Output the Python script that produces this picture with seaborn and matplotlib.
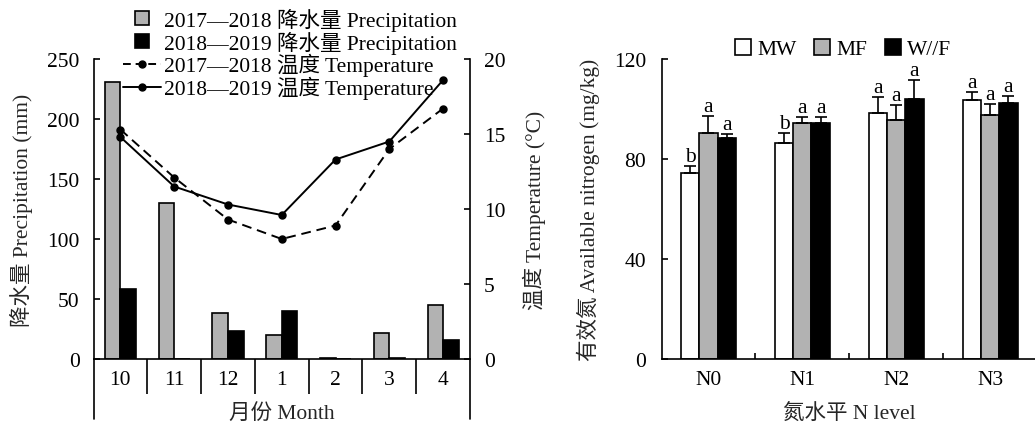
import numpy as np
import pandas as pd
import matplotlib
matplotlib.use('Agg')
import matplotlib.pyplot as plt
from matplotlib.lines import Line2D
import seaborn as sns

# Datos del panel izquierdo: precipitación y temperatura mensual
months = ['10', '11', '12', '1', '2', '3', '4']
seasons = ['2017—2018', '2018—2019']
precip_1718 = [231, 130, 38, 20, 1, 22, 45]
precip_1819 = [58, 0, 23, 40, 0, 0.6, 16]
temp_1718 = [15.3, 12.1, 9.3, 8.0, 8.9, 14.0, 16.7]
temp_1819 = [14.8, 11.5, 10.3, 9.6, 13.3, 14.5, 18.6]

# Datos del panel derecho: nitrógeno disponible
n_levels = ['N0', 'N1', 'N2', 'N3']
systems = ['MW', 'MF', 'W//F']
mw_vals = [74.5, 86.5, 98.5, 103.5]
mf_vals = [90.5, 94.5, 95.5, 97.5]
wf_vals = [88.5, 94.5, 104, 102.5]
mw_err = [2.8, 4.0, 6.3, 3.4]
mf_err = [6.6, 2.3, 6.1, 4.6]
wf_err = [1.6, 2.2, 7.7, 2.8]
mw_sig = ['b', 'b', 'a', 'a']
mf_sig = ['a', 'a', 'a', 'a']
wf_sig = ['a', 'a', 'a', 'a']

GRAY = '#b2b2b2'
FS = 15.5

sns.set_style('ticks')
plt.rcParams['font.family'] = ['Liberation Serif', 'Noto Sans CJK SC']
plt.rcParams['font.size'] = FS
plt.rcParams['axes.linewidth'] = 1.2
plt.rcParams['axes.edgecolor'] = 'black'
plt.rcParams['text.color'] = 'black'
plt.rcParams['xtick.color'] = 'black'
plt.rcParams['ytick.color'] = 'black'

df_p = pd.DataFrame({
  'month': months * 2,
  'precip': precip_1718 + precip_1819,
  'season': [seasons[0]] * len(months) + [seasons[1]] * len(months),
})
df_t = pd.DataFrame({
  'month': months * 2,
  'temp': temp_1718 + temp_1819,
  'season': [seasons[0]] * len(months) + [seasons[1]] * len(months),
})

fig = plt.figure(figsize=(10.35, 4.27), dpi=100)
W, H = 1035, 427
ax1 = fig.add_axes([93.5 / W, 1 - 360 / H, (470 - 93.5) / W, 300 / H])
ax3 = fig.add_axes([661.5 / W, 1 - 360 / H, (1037 - 661.5) / W, 300 / H])

# ---- panel izquierdo ----
sns.barplot(data=df_p, x='month', y='precip', hue='season', order=months,
            palette=[GRAY, 'black'], edgecolor='black', linewidth=1.2,
            width=0.58, legend=False, ax=ax1)
ax1.set_ylim(0, 250)
ax1.set_xlim(-0.5, len(months) - 0.5)
ax1.set_yticks([0, 50, 100, 150, 200, 250])

ax2 = ax1.twinx()
sns.pointplot(data=df_t, x='month', y='temp', hue='season', order=months,
              palette=['black', 'black'], markers=['o', 'o'],
              linestyles=[(0, (5, 3)), '-'], markersize=5, linewidth=1.4,
              errorbar=None, legend=False, ax=ax2)
ax2.set_ylim(0, 20)
ax2.set_yticks([0, 5, 10, 15, 20])
ax1.set_xlim(-0.5, len(months) - 0.5)

for ax in (ax1, ax2):
  ax.spines['top'].set_visible(False)
ax1.spines['right'].set_visible(False)
ax2.spines['left'].set_visible(False)
ax2.spines['bottom'].set_visible(False)

ax1.set_xticks(range(len(months)))
ax1.set_xticklabels(months)
ax1.set_xticks(np.arange(0.5, len(months) - 1, 1.0), minor=True)
ax1.tick_params(axis='x', which='major', length=0, pad=8, labelsize=FS)
ax1.tick_params(axis='x', which='minor', direction='out', length=25, width=1.2)
ax1.tick_params(axis='y', direction='in', length=4, width=1.2, pad=10, labelsize=FS)
ax2.tick_params(axis='y', direction='in', length=4, width=1.2, pad=10, labelsize=FS)

# marco extendido bajo el eje x
for xpos in (0, 1):
  ax1.plot([xpos, xpos], [0, -0.2], transform=ax1.transAxes, clip_on=False,
           color='black', lw=1.2)

ax1.set_xlabel('月份 Month', fontsize=FS, va='top')
ax1.xaxis.set_label_coords(0.5, -0.145)
ax1.set_ylabel('降水量 Precipitation (mm)', fontsize=FS)
ax1.yaxis.set_label_coords(-0.162, 0.5)
ax2.set_ylabel('温度 Temperature (°C)', fontsize=FS)
ax2.yaxis.set_label_coords(1.14, 0.5)

handles1 = [
  Line2D([], [], ls='none', marker='s', markersize=10, markerfacecolor=GRAY,
         markeredgecolor='black', markeredgewidth=1.2),
  Line2D([], [], ls='none', marker='s', markersize=10, markerfacecolor='black',
         markeredgecolor='black', markeredgewidth=1.2),
  Line2D([], [], ls=(0, (4, 2.5)), lw=1.4, color='black', marker='o', markersize=5),
  Line2D([], [], ls='-', lw=1.4, color='black', marker='o', markersize=5),
]
labels1 = [seasons[0] + ' 降水量 Precipitation', seasons[1] + ' 降水量 Precipitation',
           seasons[0] + ' 温度 Temperature', seasons[1] + ' 温度 Temperature']
fig.legend(handles1, labels1, loc='upper left', bbox_to_anchor=(123 / W, 1 - 9 / H),
           frameon=False, fontsize=FS, borderpad=0, borderaxespad=0,
           handlelength=1.75, handletextpad=0.15, labelspacing=-0.02)

# ---- panel derecho ----
df_n = pd.DataFrame({
  'level': n_levels * 3,
  'value': mw_vals + mf_vals + wf_vals,
  'system': [systems[0]] * 4 + [systems[1]] * 4 + [systems[2]] * 4,
})
sns.barplot(data=df_n, x='level', y='value', hue='system', order=n_levels,
            palette=['white', GRAY, 'black'], edgecolor='black', linewidth=1.2,
            width=0.585, errorbar=None, legend=False, ax=ax3)
ax3.set_ylim(0, 120)
ax3.set_xlim(-0.5, len(n_levels) - 0.5)
ax3.set_yticks([0, 40, 80, 120])

for container, errs, sigs in zip(ax3.containers, [mw_err, mf_err, wf_err],
                                 [mw_sig, mf_sig, wf_sig]):
  for bar, e, s in zip(container, errs, sigs):
    xc = bar.get_x() + bar.get_width() / 2
    top = bar.get_height()
    ax3.errorbar(xc, top, yerr=[[0], [e]], fmt='none', ecolor='black',
                 elinewidth=1.2, capsize=4, capthick=1.2)
    ax3.annotate(s, (xc, top + e), xytext=(0, 0), textcoords='offset points',
                 ha='center', va='bottom', fontsize=FS)

ax3.spines['top'].set_visible(False)
ax3.spines['right'].set_visible(False)
ax3.set_xticks(range(len(n_levels)))
ax3.set_xticklabels(n_levels)
ax3.set_xticks(np.arange(0.5, len(n_levels) - 1, 1.0), minor=True)
ax3.tick_params(axis='x', which='major', length=0, pad=8, labelsize=FS)
ax3.tick_params(axis='x', which='minor', direction='in', length=4, width=1.2)
ax3.tick_params(axis='y', direction='in', length=4, width=1.2, pad=11, labelsize=FS)

ax3.set_xlabel('氮水平 N level', fontsize=FS, va='top')
ax3.xaxis.set_label_coords(0.5, -0.145)
ax3.set_ylabel('有效氮 Available nitrogen (mg/kg)', fontsize=FS)
ax3.yaxis.set_label_coords(-0.165, 0.5)

handles3 = [
  Line2D([], [], ls='none', marker='s', markersize=11, markerfacecolor=c,
         markeredgecolor='black', markeredgewidth=1.2)
  for c in ['white', GRAY, 'black']
]
fig.legend(handles3, systems, loc='upper left', bbox_to_anchor=(735 / W, 1 - 40 / H),
           ncol=3, frameon=False, fontsize=FS, borderpad=0, borderaxespad=0,
           handlelength=0.75, handletextpad=0.3, columnspacing=0.8)

fig.savefig('out.png', dpi=100)
